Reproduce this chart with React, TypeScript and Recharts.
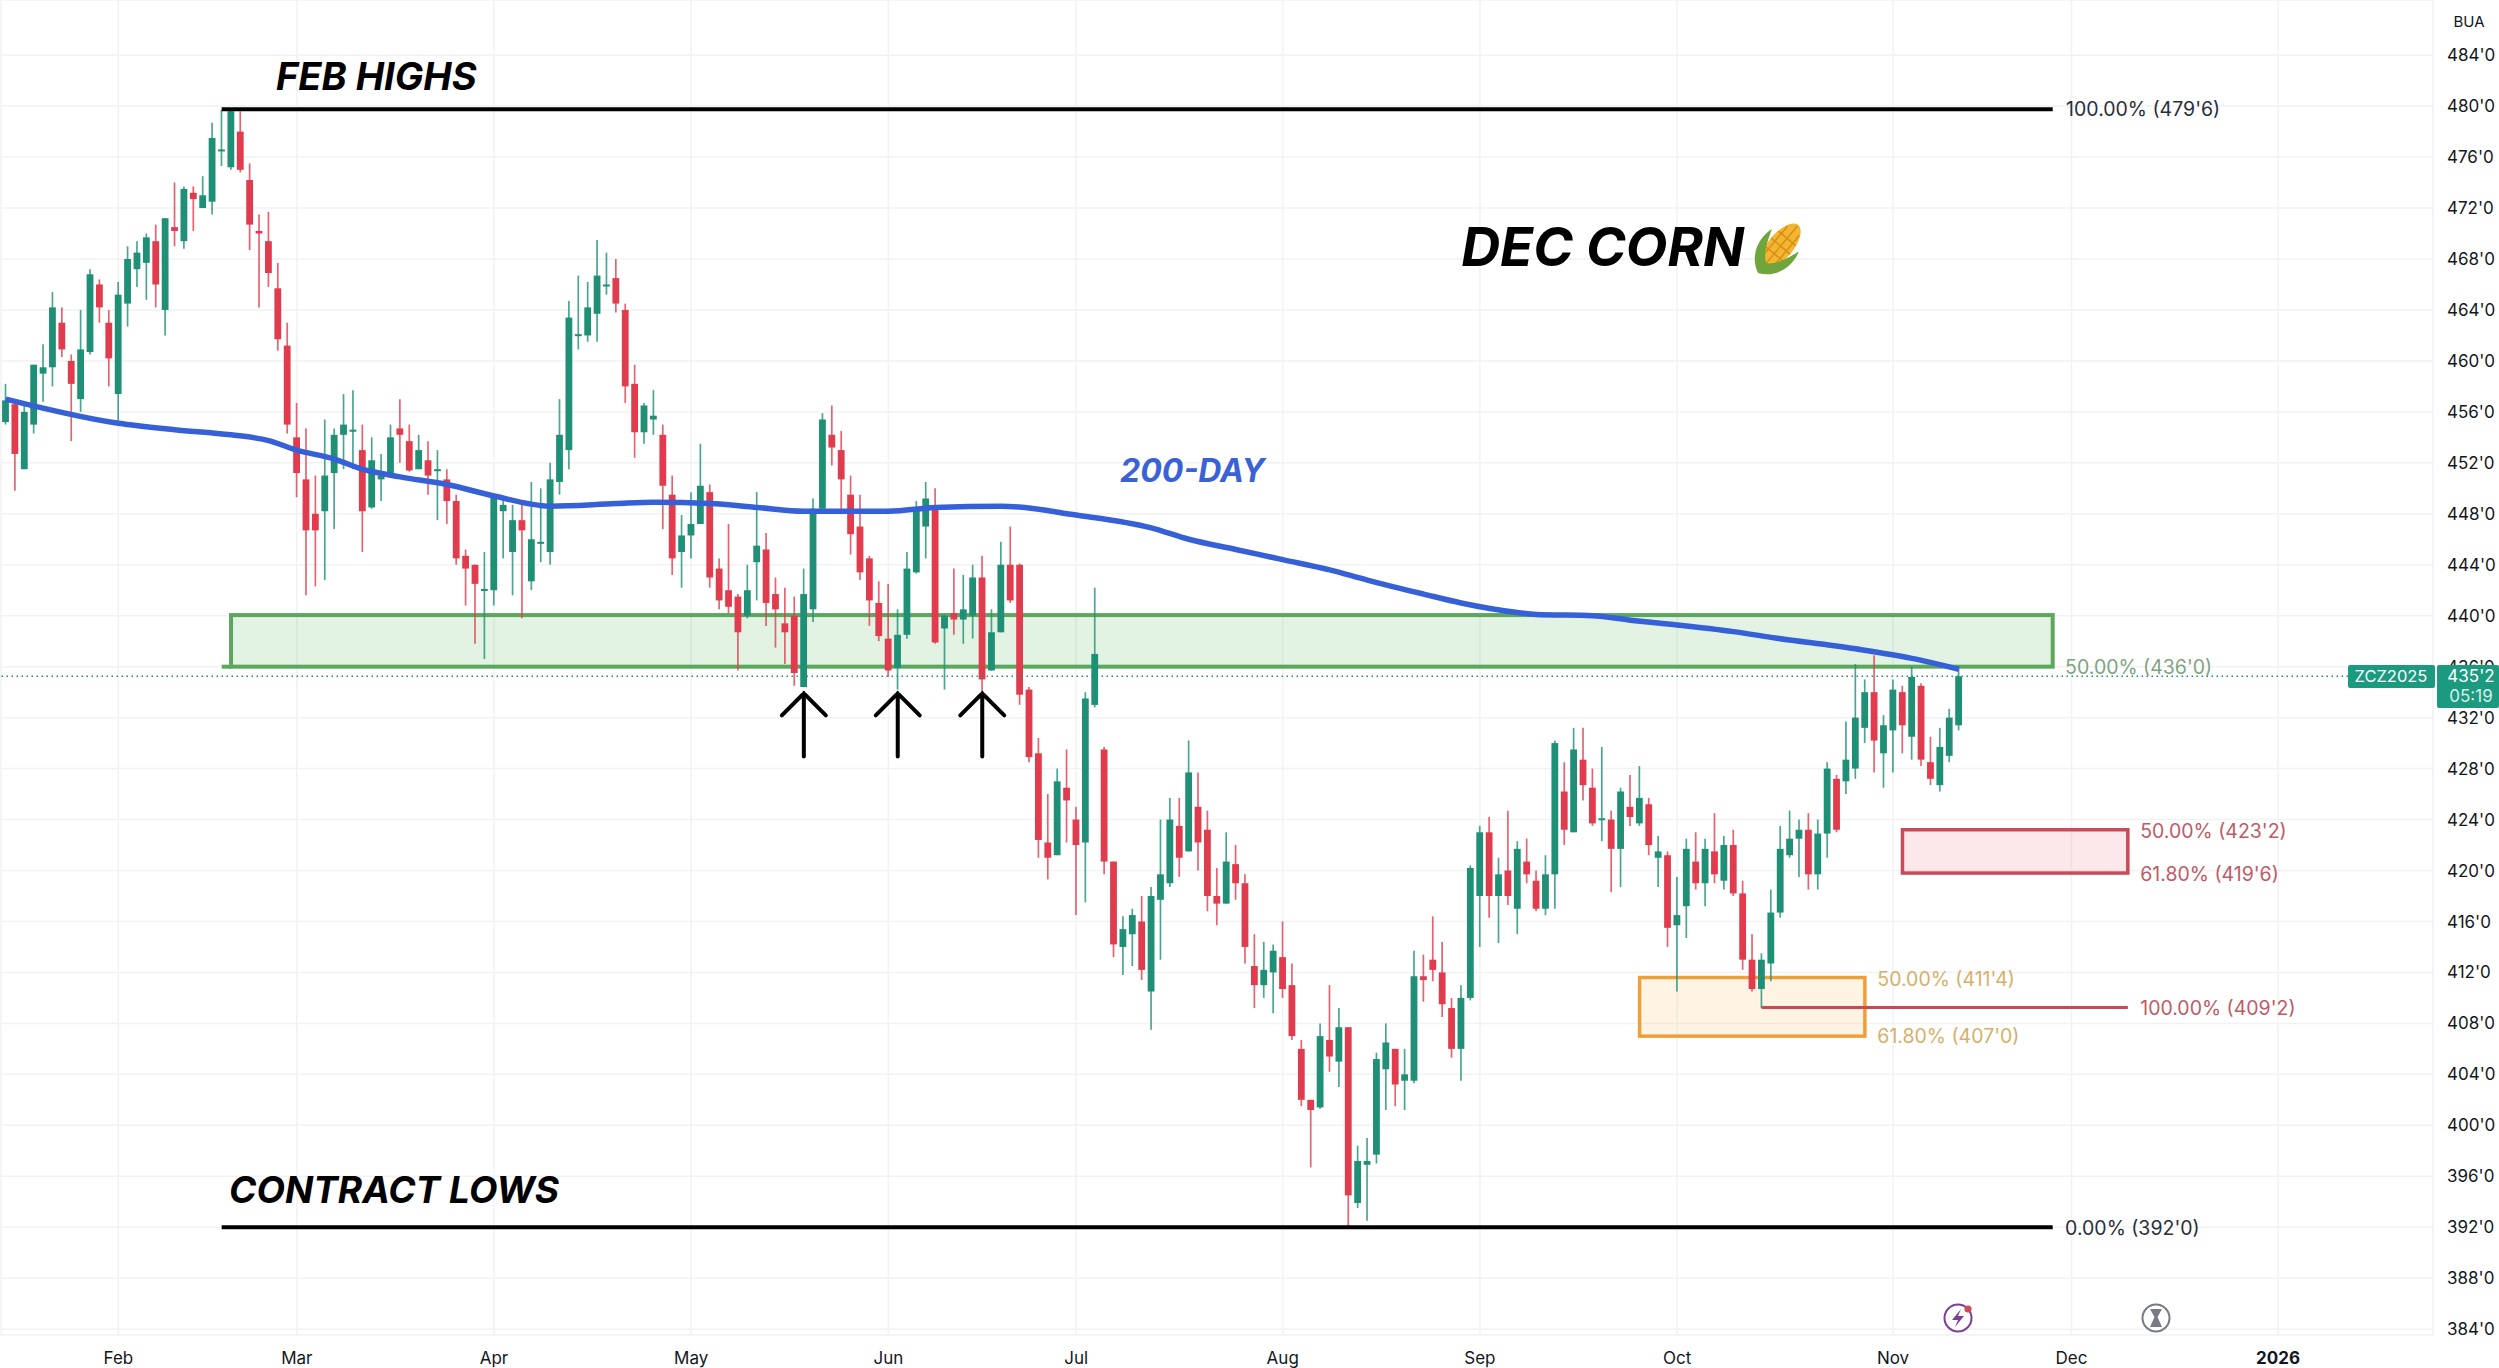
import { Bar, CartesianGrid, ComposedChart, Line, ReferenceArea, ReferenceDot, ReferenceLine, XAxis, YAxis } from "recharts";

const opens = [
  455.2,456.6,451.5,455.0,459.0,459.5,463.0,460.0,457.0,460.7,
  466.0,463.0,457.4,464.5,467.2,467.7,469.4,464.0,470.5,469.4,
  473.2,472.0,472.5,476.5,475.2,478.0,474.2,470.2,469.4,465.7,
  461.2,454.0,450.7,448.0,448.2,451.2,454.2,454.5,453.0,448.5,
  450.7,451.2,454.7,453.7,451.5,452.2,451.4,450.7,449.0,444.7,
  444.0,442.0,442.0,448.2,445.0,447.5,442.7,445.7,445.0,450.5,
  453.0,462.0,462.0,463.7,465.9,466.5,464.0,458.2,454.4,455.4,
  454.2,449.5,445.0,446.3,447.2,449.7,443.7,442.0,441.5,440.0,
  444.2,445.2,441.7,439.4,440.0,434.4,440.5,448.4,454.2,453.0,
  449.5,447.0,444.5,441.0,438.2,435.9,438.5,443.4,447.0,448.5,
  439.0,440.2,439.7,440.0,443.0,435.7,438.7,444.0,444.0,434.2,
  429.2,422.2,421.2,426.5,424.0,422.2,433.0,429.5,420.7,414.0,
  415.0,416.0,410.5,417.7,419.0,423.5,421.5,425.0,423.2,418.0,
  417.4,420.5,419.0,412.5,411.0,412.0,413.2,411.0,406.0,402.0,
  401.4,406.7,405.0,407.7,393.9,396.9,397.7,404.4,406.0,403.5,
  403.5,411.7,413.0,412.0,409.2,406.0,410.0,418.0,423.0,418.0,
  420.0,417.0,420.7,419.2,417.0,419.7,426.2,423.0,428.7,426.5,
  424.0,424.0,421.7,425.0,423.7,425.2,421.0,421.2,415.7,417.2,
  420.7,419.0,421.5,419.2,422.0,418.2,413.0,410.7,412.7,416.7,
  421.2,422.5,423.2,419.7,422.9,427.2,427.0,428.0,431.2,434.0,
  429.2,431.0,434.0,430.5,434.5,428.5,426.7,429.0,431.4,
];

const highs = [
  458.2,456.8,456.6,459.7,461.3,465.4,464.2,460.5,464.0,467.2,
  466.4,464.0,466.2,469.0,469.4,470.0,470.7,471.2,474.0,473.7,
  473.7,474.5,478.7,479.7,479.75,479.6,475.5,471.5,471.7,467.7,
  463.0,456.7,454.7,451.0,455.4,454.7,457.4,457.7,455.0,454.0,
  452.7,455.0,457.0,455.0,454.2,453.7,453.0,451.5,449.5,445.2,
  444.0,445.0,449.5,449.0,448.7,448.7,450.5,450.0,452.0,457.0,
  464.7,466.7,466.2,469.5,468.5,468.0,464.5,459.7,456.7,457.7,
  455.0,451.0,447.9,449.7,453.5,450.3,444.5,447.2,441.7,444.0,
  449.7,446.5,443.0,442.2,441.5,443.7,449.2,455.9,456.5,454.5,
  451.0,449.5,444.7,442.7,442.5,440.5,445.0,449.0,450.5,450.0,
  440.1,443.7,443.2,444.0,444.7,440.5,445.8,447.0,444.1,434.4,
  430.4,426.0,428.0,429.5,425.0,434.0,442.2,429.7,420.7,416.4,
  417.0,418.0,418.7,424.0,425.7,425.7,430.2,427.7,424.7,420.2,
  423.0,422.0,419.7,415.0,414.4,414.2,416.0,412.7,406.7,402.0,
  408.0,411.0,409.2,407.7,398.4,399.0,405.7,408.0,406.0,406.0,
  413.7,413.4,416.4,414.4,410.0,411.0,420.4,423.5,424.2,421.0,
  424.7,422.3,422.5,420.0,421.2,430.2,428.5,431.2,431.2,428.0,
  429.7,424.7,426.5,427.5,428.2,425.7,422.7,421.5,419.5,422.5,
  423.0,422.5,424.5,422.7,423.2,419.2,415.0,413.5,418.5,423.5,
  424.7,424.0,424.5,424.0,428.5,427.5,431.7,436.2,435.0,436.9,
  432.2,435.0,434.5,436.0,434.7,430.5,431.2,432.7,436.0,
];

const lows = [
  455.0,449.8,451.5,454.3,456.8,458.0,460.3,453.7,456.0,460.5,
  463.0,458.0,455.2,462.7,465.8,464.8,464.2,462.0,469.0,468.8,
  470.2,472.0,471.5,475.3,475.0,474.8,468.7,464.2,465.8,460.8,
  454.3,449.3,441.6,442.3,442.8,446.8,451.5,451.5,445.0,448.4,
  449.0,451.0,452.0,451.3,451.5,449.5,447.5,447.2,444.0,440.8,
  437.8,436.6,440.8,444.5,441.6,439.8,442.0,444.2,444.0,449.5,
  451.5,460.9,461.5,461.5,465.2,463.8,456.7,452.4,453.5,454.2,
  446.8,443.2,442.2,444.5,447.2,442.2,440.5,440.2,435.7,439.8,
  441.2,439.2,437.5,436.2,434.5,434.4,439.5,448.4,451.8,448.1,
  444.8,442.8,439.2,438.0,435.2,434.2,438.2,443.3,444.5,437.8,
  434.2,438.5,437.8,438.2,434.1,435.7,438.7,441.0,433.0,428.5,
  421.0,419.3,421.2,422.2,416.5,417.5,432.8,419.7,413.2,411.8,
  412.5,411.4,407.5,413.0,418.7,419.5,421.5,420.0,416.8,415.7,
  417.4,417.7,412.7,409.2,410.0,408.8,410.0,406.7,401.5,396.7,
  401.3,404.2,403.0,392.0,393.5,392.5,397.0,401.2,401.5,401.2,
  403.3,409.7,411.3,408.5,405.3,403.5,409.8,414.0,416.3,414.3,
  417.3,415.0,419.0,416.8,416.5,417.0,422.0,423.0,425.5,423.5,
  422.3,418.3,418.7,423.5,423.5,421.2,418.7,414.0,410.5,414.7,
  418.5,417.2,419.0,418.5,418.0,412.2,410.5,409.2,411.3,416.3,
  421.0,419.5,418.5,418.5,421.0,423.0,426.0,427.2,430.0,427.7,
  426.5,427.7,429.2,428.7,428.2,426.7,426.2,428.5,431.0,
];

const closes = [
  456.9,452.7,456.0,459.7,459.5,464.2,460.9,458.2,460.9,466.8,
  464.2,460.2,465.2,468.0,468.5,469.7,466.0,471.2,470.2,473.5,
  472.7,473.0,477.5,476.6,479.6,475.0,470.7,470.0,466.9,461.7,
  455.0,451.2,446.7,446.7,451.0,454.2,455.0,454.6,448.2,452.2,
  451.0,454.0,454.2,451.4,453.0,451.0,451.5,449.0,444.5,443.7,
  442.5,442.1,449.5,448.7,447.5,446.7,446.0,445.8,450.7,454.2,
  463.4,462.1,464.2,466.7,466.0,464.5,458.0,454.4,456.5,455.7,
  450.2,444.5,446.3,447.2,450.2,443.0,441.2,440.7,438.7,442.0,
  445.5,441.0,440.5,438.7,435.5,441.7,448.4,455.4,453.2,450.7,
  446.4,443.4,441.2,438.4,435.7,438.5,443.7,448.4,449.2,437.9,
  440.0,439.7,440.5,443.0,435.0,438.7,444.0,441.2,433.8,428.9,
  422.4,421.0,427.0,425.5,422.0,433.5,437.0,420.7,414.2,415.4,
  416.5,412.2,418.0,419.7,424.0,421.0,427.7,422.2,418.0,417.4,
  420.7,419.0,414.0,411.0,412.2,413.7,410.7,407.0,402.0,401.2,
  407.0,405.4,407.7,394.5,397.2,397.2,405.2,406.5,403.2,404.0,
  411.7,411.4,412.2,409.5,406.0,410.0,420.2,423.0,418.0,419.7,
  418.0,421.7,419.7,417.0,419.7,430.0,423.2,429.5,426.7,423.7,
  424.1,421.7,426.2,424.2,425.7,422.0,421.5,415.5,416.5,421.7,
  419.0,421.7,419.7,422.0,418.2,413.0,410.7,413.0,416.7,421.7,
  422.5,423.2,419.7,422.9,428.0,423.2,428.7,432.0,434.0,430.2,
  431.4,434.2,431.4,435.2,428.7,427.2,429.7,432.0,435.25,
];

// 200-day average at a handful of bars
const maBars = [0,12,18,24,28,31,35,38,42,47,52,58,65,69,75,80,85,94,99,106,114,122,126,131,136,141,145,151,155,161,163,169,173,177,184,188,197,203,208];
const maValues = [457.0,455.1,454.6,454.2,453.75,453.0,452.3,451.5,450.9,450.3,449.4,448.6,448.8,448.9,448.8,448.5,448.2,448.2,448.5,448.6,447.9,446.9,446.0,445.2,444.4,443.6,442.8,441.7,441.0,440.25,440.1,440.0,439.65,439.35,438.75,438.3,437.4,436.65,435.8];

const monthBars = [12,31,52,73,94,114,136,157,178,201,220,242];
const monthLabels = ["Feb","Mar","Apr","May","Jun","Jul","Aug","Sep","Oct","Nov","Dec","2026"];
const priceTicks = [384,388,392,396,400,404,408,412,416,420,424,428,432,436,440,444,448,452,456,460,464,468,472,476,480,484];
const arrowBars = [85,95,104];

const TOTAL_SLOTS = 259; // bars plus the empty space to the right of the last one
const HALF_SLOT = 4.7;
const UP = "#1f8f76";
const DOWN = "#e13c4d";
const FONT = "Inter, sans-serif";

const rows = Array.from({ length: TOTAL_SLOTS }, (_, i) => {
  const maAt = maBars.indexOf(i);
  return {
    bar: i,
    open: opens[i],
    close: closes[i],
    range: i < opens.length ? [lows[i], highs[i]] : null,
    ma: maAt >= 0 ? maValues[maAt] : null,
  };
});

function Candle(props: any) {
  const { x, width, y, height, payload } = props;
  if (!payload || !payload.range) return null;
  const [low, high] = payload.range;
  const perUnit = height / (high - low);
  const mid = x + width / 2;
  const color = payload.close >= payload.open ? UP : DOWN;
  const top = y + (high - Math.max(payload.open, payload.close)) * perUnit;
  const bodyH = Math.max(Math.abs(payload.open - payload.close) * perUnit, 2);
  return (
    <g>
      <line x1={mid} x2={mid} y1={y} y2={y + height} stroke={color} strokeWidth={1.7} strokeOpacity={0.8} />
      <rect x={mid - 3.4} y={top} width={6.8} height={bodyH} fill={color} />
    </g>
  );
}

// ReferenceArea spans whole bands; the zones here run from bar centre to bar centre
function ZoneBox(props: any) {
  const { x, y, width, height, fill, fillOpacity, stroke, strokeWidth } = props;
  return (
    <rect
      x={x + HALF_SLOT}
      y={y}
      width={width - HALF_SLOT * 2}
      height={height}
      fill={fill}
      fillOpacity={fillOpacity}
      stroke={stroke}
      strokeWidth={strokeWidth}
    />
  );
}

function MonthTick(props: any) {
  const { x, y, payload } = props;
  const label = monthLabels[monthBars.indexOf(payload.value)];
  return (
    <text x={x} y={y + 21} textAnchor="middle" fontFamily={FONT} fontSize={17} fontWeight={label === "2026" ? 700 : 400} fill="#131722">
      {label}
    </text>
  );
}

// annotation text, anchored to a bar and a price
const notes = [
  { bar: 29, price: 482.4, dx: -2, text: "FEB HIGHS", color: "#000", size: 38, strong: true },
  { bar: 24, price: 395.0, dx: -2, text: "CONTRACT LOWS", color: "#000", size: 37, strong: true },
  { bar: 155, price: 469.0, dx: 0, text: "DEC CORN", color: "#000", size: 54, strong: true },
  { bar: 119, price: 451.4, dx: -3, text: "200-DAY", color: "#3a62d6", size: 32, strong: true },
  { bar: 219, price: 479.75, dx: 4, text: "100.00% (479'6)", color: "#2a2e39", size: 19.5, strong: false },
  { bar: 219, price: 391.9, dx: 3, text: "0.00% (392'0)", color: "#2a2e39", size: 19.5, strong: false },
  { bar: 219, price: 436, dx: 3, text: "50.00% (436'0)", color: "#7fa380", size: 19.5, strong: false },
  { bar: 227, price: 423.1, dx: 3, text: "50.00% (423'2)", color: "#bf5a68", size: 19.5, strong: false },
  { bar: 227, price: 419.75, dx: 3, text: "61.80% (419'6)", color: "#bf5a68", size: 19.5, strong: false },
  { bar: 227, price: 409.2, dx: 3, text: "100.00% (409'2)", color: "#bf5a68", size: 19.5, strong: false },
  { bar: 199, price: 411.5, dx: 3, text: "50.00% (411'4)", color: "#d6b06a", size: 19.5, strong: false },
  { bar: 199, price: 407, dx: 3, text: "61.80% (407'0)", color: "#d6b06a", size: 19.5, strong: false },
];

function Overlay() {
  return (
    <svg width={2499} height={1368} style={{ position: "absolute", left: 0, top: 0, pointerEvents: "none" }}>
      <text x={2469} y={27} textAnchor="middle" fontFamily={FONT} fontSize={15} fill="#131722">BUA</text>
      {/* last price tags */}
      <rect x={2348} y={665} width={87} height={23} rx={2} fill="#1c9a7f" />
      <text x={2391} y={682} textAnchor="middle" fontFamily={FONT} fontSize={16.5} fill="#fff">ZCZ2025</text>
      <rect x={2437} y={665} width={62} height={43} rx={2} fill="#1c9a7f" />
      <text x={2471} y={682} textAnchor="middle" fontFamily={FONT} fontSize={17} fill="#fff">435'2</text>
      <text x={2471} y={702} textAnchor="middle" fontFamily={FONT} fontSize={17} fill="#d6f0ea">05:19</text>
      {/* corn */}
      <g transform="translate(1779 248) rotate(40) scale(1.25)">
        <ellipse cx={0} cy={-2} rx={10} ry={22} fill="#f2b632" />
        <path d="M-6 -18V14M0 -23V18M6 -18V14M-9 -10H9M-10 -2H10M-9 6H9" stroke="#d98f16" strokeWidth={1.2} />
        <path d="M0 26C-14 20 -18 4 -14 -8C-10 4 -6 12 0 16C6 12 10 4 14 -8C18 4 14 20 0 26Z" fill="#6fa53a" />
      </g>
      {/* chart footer icons */}
      <circle cx={1958} cy={1318} r={13.5} fill="#fff" stroke="#7b3f98" strokeWidth={2} />
      <path d="M1961 1309L1952 1320H1958L1955 1327L1964 1316H1958Z" fill="#7b3f98" />
      <circle cx={1968} cy={1309} r={3.6} fill="#cf4a57" />
      <circle cx={2156} cy={1318} r={13.5} fill="#fff" stroke="#787b86" strokeWidth={2} />
      <path d="M2150 1309H2162L2157.5 1317L2162 1327H2150L2154.5 1317Z" fill="#787b86" />
    </svg>
  );
}

export default function App() {
  return (
    <div style={{ position: "absolute", left: 0, top: 0, width: 2499, height: 1368, background: "#fff", overflow: "hidden" }}>
      <ComposedChart
        width={2499}
        height={1368}
        data={rows}
        margin={{ top: 0, right: 0, bottom: 0, left: 1 }}
        barCategoryGap={0}
      >
        <CartesianGrid stroke="#f1f2f4" strokeWidth={1.5} />
        <XAxis
          dataKey="bar"
          type="category"
          ticks={monthBars}
          interval={0}
          height={33}
          axisLine={false}
          tickLine={false}
          tick={<MonthTick />}
        />
        <YAxis
          orientation="right"
          type="number"
          domain={[383.54, 488.33]}
          allowDataOverflow
          ticks={priceTicks}
          interval={0}
          width={66}
          axisLine={false}
          tickLine={false}
          tickMargin={8}
          tickFormatter={(v: number) => `${v}'0`}
          tick={{ fontSize: 17, fontFamily: FONT, fill: "#131722" }}
        />

        <ReferenceArea x1={174} x2={198} y1={407} y2={411.6} fill="#ff9800" fillOpacity={0.11} stroke="#ee9f3c" strokeWidth={3.5} shape={ZoneBox} />
        <ReferenceArea x1={202} x2={226} y1={419.8} y2={423.2} fill="#e5434f" fillOpacity={0.12} stroke="#c74b58" strokeWidth={3.5} shape={ZoneBox} />
        <ReferenceArea x1={24} x2={218} y1={436} y2={440.05} fill="#4caf50" fillOpacity={0.16} stroke="#5aa85c" strokeWidth={4} shape={ZoneBox} />
        <ReferenceLine segment={[{ x: 23, y: 436 }, { x: 24, y: 436 }]} stroke="#5aa85c" strokeWidth={4} />
        <ReferenceLine y={435.25} stroke="#1f8f76" strokeWidth={1.4} strokeDasharray="1.5 3.5" />

        <Bar dataKey="range" shape={<Candle />} isAnimationActive={false} />
        <Line dataKey="ma" type="monotone" stroke="#3560d8" strokeWidth={5.5} dot={false} activeDot={false} connectNulls isAnimationActive={false} />

        <ReferenceLine segment={[{ x: 23, y: 479.75 }, { x: 218, y: 479.75 }]} stroke="#000" strokeWidth={4} />
        <ReferenceLine segment={[{ x: 23, y: 392 }, { x: 218, y: 392 }]} stroke="#000" strokeWidth={4} />
        <ReferenceLine segment={[{ x: 187, y: 409.25 }, { x: 226, y: 409.25 }]} stroke="#cf4753" strokeWidth={3} />

        {arrowBars.map((bar) => (
          <ReferenceDot
            key={bar}
            x={bar}
            y={433.9}
            r={0}
            shape={(p: any) => (
              <path
                d={`M${p.cx} ${p.cy}V${p.cy + 63}M${p.cx - 22} ${p.cy + 22}L${p.cx} ${p.cy}L${p.cx + 22} ${p.cy + 22}`}
                fill="none"
                stroke="#000"
                strokeWidth={4}
                strokeLinecap="round"
              />
            )}
          />
        ))}

        {notes.map((n) => (
          <ReferenceDot
            key={n.text}
            x={n.bar}
            y={n.price}
            r={0}
            shape={(p: any) => (
              <text
                x={p.cx + n.dx}
                y={p.cy}
                dominantBaseline="central"
                fontFamily={FONT}
                fontSize={n.size}
                fontWeight={n.strong ? 700 : 400}
                fontStyle={n.strong ? "italic" : "normal"}
                fill={n.color}
              >
                {n.text}
              </text>
            )}
          />
        ))}
      </ComposedChart>
      <Overlay />
    </div>
  );
}
